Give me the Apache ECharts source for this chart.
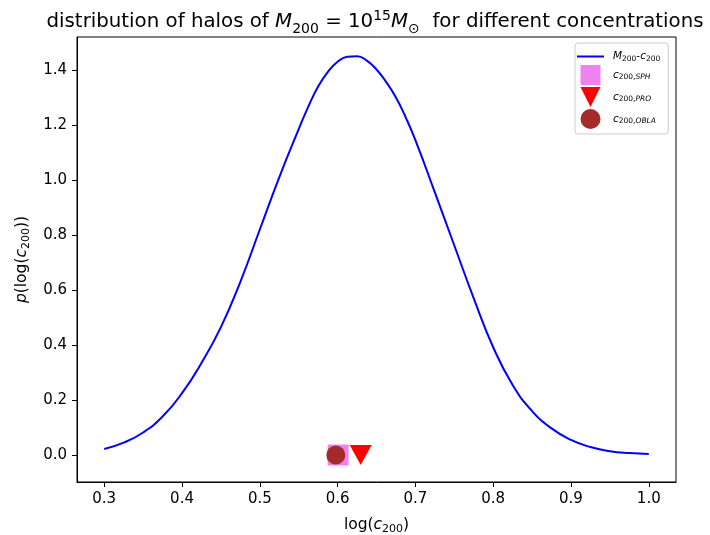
<!DOCTYPE html>
<html>
<head>
<meta charset="utf-8">
<script src="https://cdn.jsdelivr.net/npm/echarts@6/dist/echarts.min.js"></script>
<style>
  html, body { margin: 0; padding: 0; background: #ffffff; }
  #chart { width: 710px; height: 535px; }
</style>
</head>
<body>
<div id="chart"></div>
<script>
// Probability density of log(c200) from the M200-c200 relation
// (sampled more finely around the peak)
const logC = [0.300, 0.325, 0.350, 0.375, 0.400, 0.425, 0.450, 0.475, 0.500, 0.525,
              0.550, 0.5625, 0.575, 0.5875, 0.600, 0.6125, 0.625, 0.6375, 0.650, 0.6625,
              0.675, 0.6875, 0.700, 0.725, 0.750, 0.775, 0.800, 0.825, 0.850, 0.875,
              0.900, 0.925, 0.950, 0.975, 1.000];
const density = [0.022, 0.045, 0.082, 0.140, 0.225, 0.335, 0.465, 0.630, 0.820, 1.010,
                 1.185, 1.268, 1.340, 1.393, 1.430, 1.448, 1.450, 1.434, 1.402, 1.356,
                 1.300, 1.228, 1.145, 0.955, 0.762, 0.570, 0.392, 0.255, 0.160, 0.097,
                 0.055, 0.029, 0.014, 0.007, 0.004];

// Concentrations of the three halo shapes (drawn at p = 0)
const cSph = [0.6007, 0.0];
const cPro = [0.6297, 0.0];
const cObla = [0.5977, 0.0];

const xTicks = [0.3, 0.4, 0.5, 0.6, 0.7, 0.8, 0.9, 1.0];
const yTicks = [0.0, 0.2, 0.4, 0.6, 0.8, 1.0, 1.2, 1.4];

const FONT = 'DejaVu Sans';
const curve = logC.map((x, i) => [x, density[i]]);

const legendRich = {
  i: { fontFamily: FONT, fontSize: 10.5, fontStyle: 'italic', color: '#000' },
  s: { fontFamily: FONT, fontSize: 7.5, color: '#000', padding: [5, 0, 0, 0] },
  si: { fontFamily: FONT, fontSize: 7.5, fontStyle: 'italic', color: '#000', padding: [5, 0, 0, 0] },
  n: { fontFamily: FONT, fontSize: 10.5, color: '#000' },
  g: { width: 4, height: 20 }
};
const legendText = {
  'M200-c200': '{g|}{i|M}{s|200}{n|-}{i|c}{s|200}',
  'c200,SPH': '{g|}{i|c}{s|200,}{si|SPH}',
  'c200,PRO': '{g|}{i|c}{s|200,}{si|PRO}',
  'c200,OBLA': '{g|}{i|c}{s|200,}{si|OBLA}'
};

const chart = echarts.init(document.getElementById('chart'), null, { renderer: 'canvas' });
chart.setOption({
  animation: false,
  backgroundColor: '#ffffff',
  title: {
    text: 'distribution of halos of {i|M}{sub|200}{n| = 10}{sup|15}{i|M}{sub|⊙}{n|  for different concentrations}',
    left: 370,
    top: 3,
    textAlign: 'center',
    textStyle: {
      fontFamily: FONT,
      fontSize: 19.8,
      fontWeight: 'normal',
      color: '#000',
      rich: {
        n: { fontFamily: FONT, fontSize: 19.8, color: '#000' },
        i: { fontFamily: FONT, fontSize: 19.8, fontStyle: 'italic', color: '#000' },
        sub: { fontFamily: FONT, fontSize: 14, color: '#000', padding: [14, 0, 0, 0] },
        sup: { fontFamily: FONT, fontSize: 14, color: '#000', padding: [0, 0, 11, 0] }
      }
    }
  },
  grid: {
    left: 77, right: 34, top: 37, bottom: 53,
    outerBoundsMode: 'none',
    show: true, borderColor: '#000', borderWidth: 1, backgroundColor: 'transparent'
  },
  legend: {
    orient: 'vertical',
    left: 575,
    top: 43,
    padding: [8, 8, 5, 2],
    itemWidth: 27,
    itemHeight: 20,
    itemGap: 2,
    selectedMode: false,
    borderColor: '#cccccc',
    borderWidth: 1,
    borderRadius: 3,
    backgroundColor: 'rgba(255,255,255,0.8)',
    symbolKeepAspect: true,
    data: [
      { name: 'M200-c200', icon: 'path://M0,0H27V2H0Z' },
      { name: 'c200,SPH', icon: 'path://M0,0H10V10H0Z' },
      { name: 'c200,PRO' },
      { name: 'c200,OBLA', icon: 'circle' }
    ],
    formatter: name => legendText[name],
    textStyle: { fontFamily: FONT, fontSize: 10.5, color: '#000', rich: legendRich }
  },
  xAxis: {
    type: 'value',
    min: 0.265,
    max: 1.035,
    name: 'log({i|c}{s|200})',
    nameLocation: 'middle',
    nameGap: 33,
    nameTextStyle: {
      fontFamily: FONT, fontSize: 15.5, color: '#000',
      rich: {
        i: { fontFamily: FONT, fontSize: 15.5, fontStyle: 'italic', color: '#000' },
        s: { fontFamily: FONT, fontSize: 11, color: '#000', padding: [9, 0, 0, 0] }
      }
    },
    axisLine: { show: true, onZero: false, lineStyle: { color: '#000', width: 1 } },
    axisTick: { show: true, length: 5, customValues: xTicks, lineStyle: { color: '#000' } },
    axisLabel: {
      customValues: xTicks, margin: 10, fontFamily: FONT, fontSize: 15, color: '#000',
      formatter: v => v.toFixed(1)
    },
    splitLine: { show: false }
  },
  yAxis: {
    type: 'value',
    min: -0.098,
    max: 1.52,
    name: '{i|p}(log({i|c}{s|200}))',
    nameLocation: 'middle',
    nameRotate: 90,
    nameGap: 45,
    nameTextStyle: {
      fontFamily: FONT, fontSize: 15.5, color: '#000',
      rich: {
        i: { fontFamily: FONT, fontSize: 15.5, fontStyle: 'italic', color: '#000' },
        s: { fontFamily: FONT, fontSize: 11, color: '#000', padding: [9, 0, 0, 0] }
      }
    },
    axisLine: { show: true, onZero: false, lineStyle: { color: '#000', width: 1 } },
    axisTick: { show: true, length: 5, customValues: yTicks, lineStyle: { color: '#000' } },
    axisLabel: {
      customValues: yTicks, margin: 10, fontFamily: FONT, fontSize: 15, color: '#000',
      formatter: v => v.toFixed(1)
    },
    splitLine: { show: false }
  },
  series: [
    {
      name: 'M200-c200',
      type: 'line',
      data: curve,
      smooth: 0.5,
      showSymbol: false,
      symbol: 'none',
      lineStyle: { color: '#0000ff', width: 2 },
      itemStyle: { color: '#0000ff' },
      z: 2
    },
    {
      name: 'c200,SPH',
      type: 'scatter',
      data: [cSph],
      symbol: 'rect',
      symbolSize: 21,
      itemStyle: { color: '#ee82ee', opacity: 1 },
      z: 3
    },
    {
      name: 'c200,PRO',
      type: 'scatter',
      data: [cPro],
      symbol: 'path://M0,0H10L5,10Z',
      symbolSize: [22, 20],
      symbolKeepAspect: false,
      itemStyle: { color: '#ff0000', opacity: 1 },
      z: 4
    },
    {
      name: 'c200,OBLA',
      type: 'scatter',
      data: [cObla],
      symbol: 'circle',
      symbolSize: 19,
      itemStyle: { color: '#a52a2a', opacity: 1 },
      z: 5
    }
  ]
});
</script>
</body>
</html>
